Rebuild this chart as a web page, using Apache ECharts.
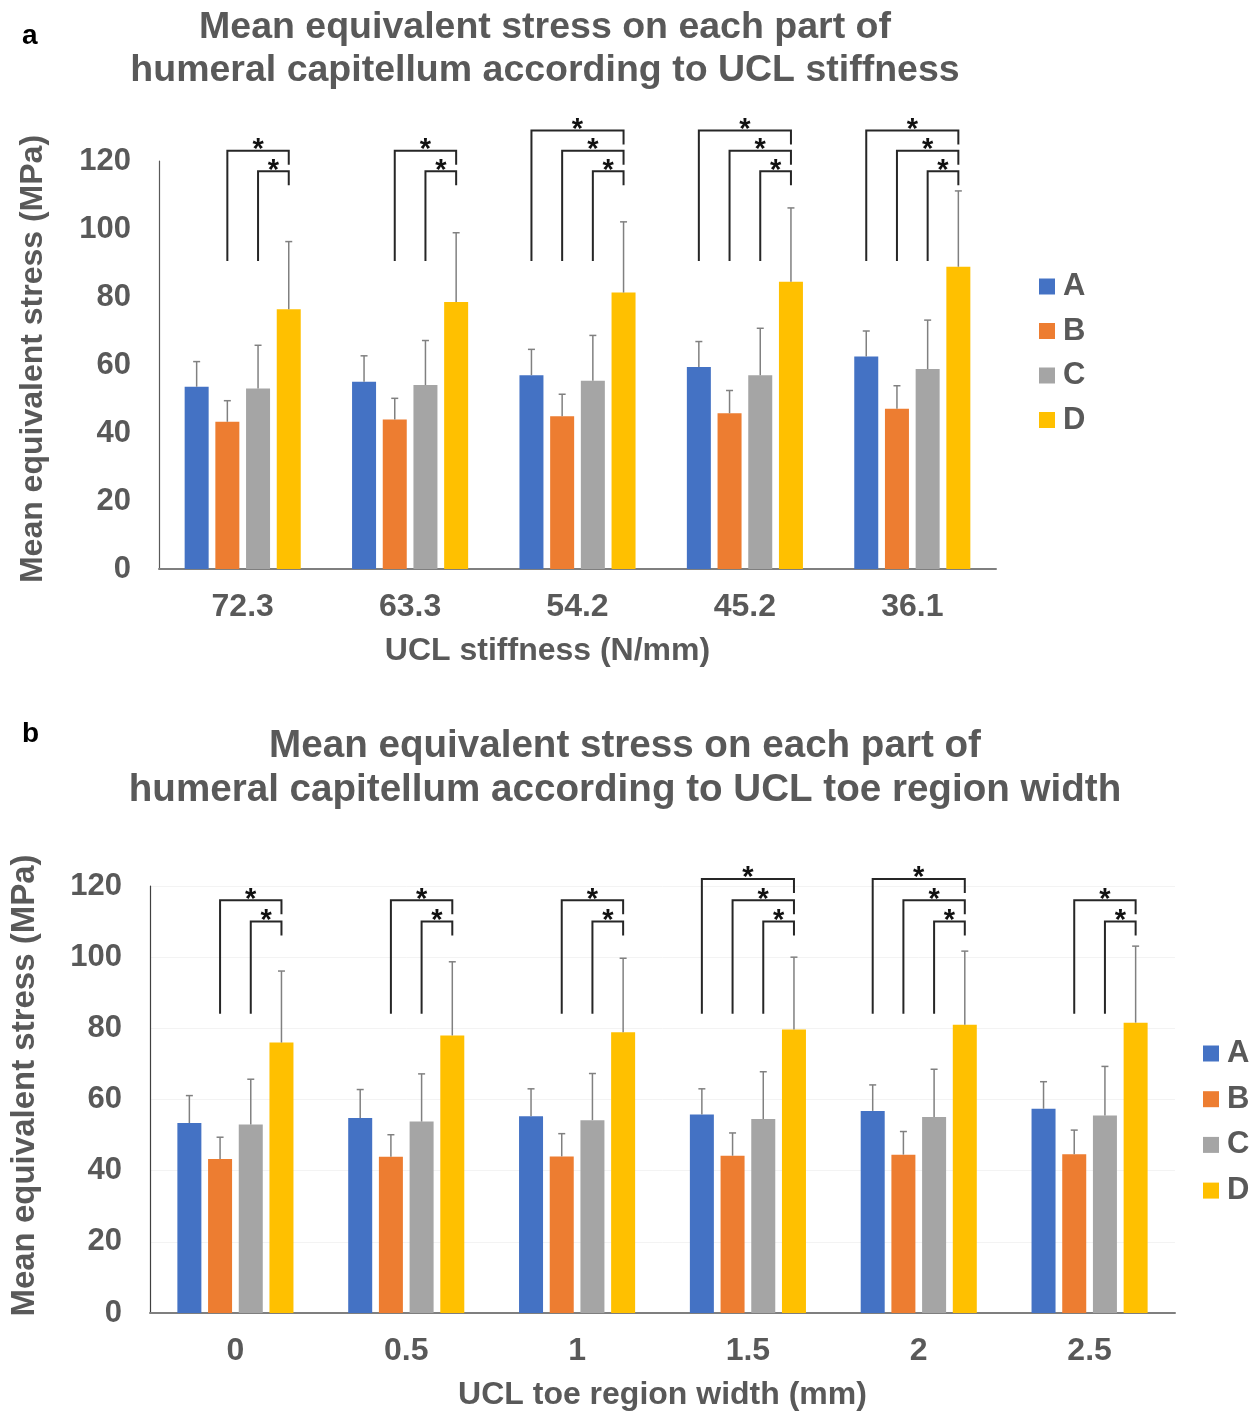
<!DOCTYPE html>
<html>
<head>
<meta charset="utf-8">
<script src="https://cdn.jsdelivr.net/npm/echarts@6/dist/echarts.min.js"></script>
<style>
html,body{margin:0;padding:0;background:#fff;}
#c{width:1250px;height:1412px;}
</style>
</head>
<body>
<div id="c"></div>
<script>
// ---------- data ----------
const seriesNames = ['A', 'B', 'C', 'D'];
const colors = ['#4472C4', '#ED7D31', '#A5A5A5', '#FFC000'];
const yTicks = [0, 20, 40, 60, 80, 100, 120];

// Panel a: UCL stiffness (N/mm)
const catsA = ['72.3', '63.3', '54.2', '45.2', '36.1'];
const meanA_A = [53.6, 55.1, 57.0, 59.4, 62.5];
const meanA_B = [43.3, 44.0, 44.9, 45.8, 47.1];
const meanA_C = [53.1, 54.1, 55.4, 57.0, 58.8];
const meanA_D = [76.4, 78.5, 81.3, 84.5, 88.9];
const sdA_A = [7.4, 7.6, 7.6, 7.5, 7.5];
const sdA_B = [6.2, 6.2, 6.5, 6.7, 6.8];
const sdA_C = [12.7, 13.1, 13.3, 13.8, 14.4];
const sdA_D = [19.9, 20.4, 20.8, 21.7, 22.3];
// significance brackets vs D (series index compared with D) per category
const sigA = [[1, 2], [1, 2], [0, 1, 2], [0, 1, 2], [0, 1, 2]];
const bracketLevelA = [129, 123, 117];   // level for A-D, B-D, C-D
const bracketBaseA = 90.6;

// Panel b: UCL toe region width (mm)
const catsB = ['0', '0.5', '1', '1.5', '2', '2.5'];
const meanB_A = [53.4, 54.8, 55.3, 55.8, 56.8, 57.4];
const meanB_B = [43.3, 43.9, 44.0, 44.2, 44.5, 44.6];
const meanB_C = [53.0, 53.8, 54.2, 54.5, 55.1, 55.5];
const meanB_D = [76.0, 78.0, 78.9, 79.7, 81.0, 81.6];
const sdB_A = [7.7, 8.0, 7.7, 7.2, 7.3, 7.6];
const sdB_B = [6.1, 6.2, 6.4, 6.4, 6.5, 6.8];
const sdB_C = [12.7, 13.4, 13.1, 13.3, 13.4, 13.8];
const sdB_D = [20.1, 20.7, 20.8, 20.3, 20.7, 21.5];
const sigB = [[1, 2], [1, 2], [1, 2], [0, 1, 2], [0, 1, 2], [1, 2]];
const bracketLevelB = [122, 116, 110];
const bracketBaseB = 84.1;

// ---------- styling ----------
const FONT = '"Liberation Sans", Arial, sans-serif';
const TXT = '#595959';
const BAR_W = 24;
const BAR_GAP_PX = 6.7;
const step = BAR_W + BAR_GAP_PX;
const offsets = [0, 1, 2, 3].map(i => (i - 1.5) * step);

const meansA = [meanA_A, meanA_B, meanA_C, meanA_D];
const sdsA = [sdA_A, sdA_B, sdA_C, sdA_D];
const meansB = [meanB_A, meanB_B, meanB_C, meanB_D];
const sdsB = [sdB_A, sdB_B, sdB_C, sdB_D];

function errRender(si) {
  return function (params, api) {
    const c = api.value(0), m = api.value(1), sd = api.value(2);
    const p1 = api.coord([c, m]);
    const p2 = api.coord([c, m + sd]);
    const x = p1[0] + offsets[si];
    return {
      type: 'group',
      children: [
        { type: 'line', shape: { x1: x, y1: p1[1], x2: x, y2: p2[1] }, style: { stroke: '#808080', lineWidth: 1.5 } },
        { type: 'line', shape: { x1: x - 3.5, y1: p2[1], x2: x + 3.5, y2: p2[1] }, style: { stroke: '#808080', lineWidth: 1.5 } }
      ]
    };
  };
}

function bracketRender(params, api) {
  const c = api.value(0), s = api.value(1), level = api.value(2), base = api.value(3);
  const pL = api.coord([c, level]);
  const pB = api.coord([c, base]);
  const xS = pL[0] + offsets[s];
  const xD = pL[0] + offsets[3];
  return {
    type: 'group',
    children: [
      { type: 'polyline', shape: { points: [[xS, pB[1]], [xS, pL[1]], [xD, pL[1]], [xD, pL[1] + 14]] },
        style: { stroke: '#262626', lineWidth: 2, fill: null } },
      { type: 'text', x: (xS + xD) / 2, y: pL[1] - 0.5,
        style: { text: '*', font: 'bold 29px ' + FONT, fill: '#111', align: 'center', verticalAlign: 'middle' } }
    ]
  };
}

function buildBrackets(sig, levels, base) {
  const out = [];
  sig.forEach((list, c) => list.forEach(s => out.push([c, s, levels[s], base])));
  return out;
}

const series = [];
function addPanel(means, sds, sig, levels, base, axisIdx) {
  means.forEach((arr, si) => {
    series.push({
      type: 'bar', name: seriesNames[si], xAxisIndex: axisIdx, yAxisIndex: axisIdx,
      data: arr, barWidth: BAR_W, barGap: (BAR_GAP_PX / BAR_W * 100).toFixed(1) + '%',
      itemStyle: { color: colors[si] }, silent: true, z: 2
    });
  });
  means.forEach((arr, si) => {
    series.push({
      type: 'custom', xAxisIndex: axisIdx, yAxisIndex: axisIdx, renderItem: errRender(si),
      data: arr.map((m, c) => [c, m, sds[si][c]]), encode: { x: 0, y: 1 }, z: 5, silent: true
    });
  });
  series.push({
    type: 'custom', xAxisIndex: axisIdx, yAxisIndex: axisIdx, renderItem: bracketRender,
    data: buildBrackets(sig, levels, base), encode: { x: 0, y: 2 }, z: 6, silent: true, clip: false
  });
}
addPanel(meansA, sdsA, sigA, bracketLevelA, bracketBaseA, 0);
addPanel(meansB, sdsB, sigB, bracketLevelB, bracketBaseB, 1);

function yAxis(gridIndex, gap, lineColor, split, nameSize, namePad) {
  return {
    type: 'value', gridIndex, min: yTicks[0], max: yTicks[yTicks.length - 1], interval: yTicks[1] - yTicks[0],
    name: 'Mean equivalent stress (MPa)', nameLocation: 'middle', nameGap: gap,
    nameTextStyle: { fontFamily: FONT, fontSize: nameSize, fontWeight: 'bold', color: TXT, padding: namePad },
    axisLine: { show: true, lineStyle: { color: lineColor, width: 1.2 } },
    axisTick: { show: false },
    axisLabel: { fontFamily: FONT, fontSize: 31, fontWeight: 'bold', color: TXT, margin: 28 },
    splitLine: { show: split, lineStyle: { color: '#f3f3f3', width: 1 } }
  };
}
function xAxis(gridIndex, cats, name, namePad) {
  return {
    type: 'category', gridIndex, data: cats, name, nameLocation: 'middle', nameGap: 66,
    nameTextStyle: { fontFamily: FONT, fontSize: 32, fontWeight: 'bold', color: TXT, padding: namePad },
    axisLine: { lineStyle: { color: '#7f7f7f', width: 2 } },
    axisTick: { show: false },
    axisLabel: { fontFamily: FONT, fontSize: 32, fontWeight: 'bold', color: TXT, margin: 22 }
  };
}

const option = {
  animation: false,
  backgroundColor: '#fff',
  title: [
    { text: 'Mean equivalent stress on each part of\nhumeral capitellum according to UCL stiffness',
      left: 545, top: 6, textAlign: 'center', padding: 0,
      textStyle: { fontFamily: FONT, fontSize: 37.5, fontWeight: 'bold', color: TXT, lineHeight: 43 } },
    { text: 'Mean equivalent stress on each part of\nhumeral capitellum according to UCL toe region width',
      left: 625, top: 724, textAlign: 'center', padding: 0,
      textStyle: { fontFamily: FONT, fontSize: 38.6, fontWeight: 'bold', color: TXT, lineHeight: 44 } }
  ],
  graphic: [
    { type: 'text', left: 22, top: 22, style: { text: 'a', font: 'bold 28px ' + FONT, fill: '#000' } },
    { type: 'text', left: 22, top: 720, style: { text: 'b', font: 'bold 28px ' + FONT, fill: '#000' } }
  ],
  legend: [
    { data: seriesNames, orient: 'vertical', left: 1039, top: 271, itemWidth: 16, itemHeight: 16, itemGap: 13.5,
      icon: 'rect', selectedMode: false, padding: 0,
      textStyle: { fontFamily: FONT, fontSize: 31, fontWeight: 'bold', color: TXT, lineHeight: 30, padding: [0, 0, 0, 3] } },
    { data: seriesNames, orient: 'vertical', left: 1203, top: 1038, itemWidth: 16, itemHeight: 16, itemGap: 14.7,
      icon: 'rect', selectedMode: false, padding: 0,
      textStyle: { fontFamily: FONT, fontSize: 31, fontWeight: 'bold', color: TXT, lineHeight: 30, padding: [0, 0, 0, 3] } }
  ],
  grid: [
    { left: 159, right: 254, top: 161, bottom: 843 },
    { left: 150, right: 75, top: 886, bottom: 98 }
  ],
  xAxis: [xAxis(0, catsA, 'UCL stiffness (N/mm)', [0, 60, 0, 0]), xAxis(1, catsB, 'UCL toe region width (mm)', 0)],
  yAxis: [yAxis(0, 110, '#595959', false, 32, [0, 0, 0, 12]), yAxis(1, 109, '#404040', true, 33, [0, 0, 0, 28])],
  series
};

const chart = echarts.init(document.getElementById('c'), null, { renderer: 'canvas' });
chart.setOption(option);
</script>
</body>
</html>
